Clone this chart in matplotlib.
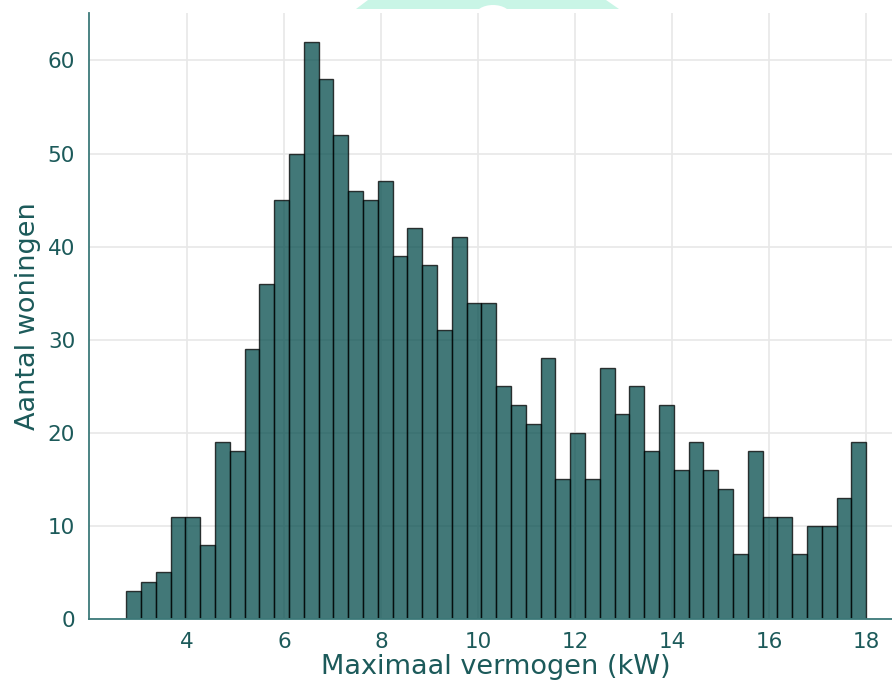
import numpy as np
import matplotlib
matplotlib.use("Agg")
import matplotlib.pyplot as plt
from matplotlib.patches import Polygon, Ellipse

# Histogram counts per bin
counts = [3, 4, 5, 11, 11, 8, 19, 18, 29, 36,
          45, 50, 62, 58, 52, 46, 45, 47, 39, 42,
          38, 31, 41, 34, 34, 25, 23, 21, 28, 15,
          20, 15, 27, 22, 25, 18, 23, 16, 19, 16,
          14, 7, 18, 11, 11, 7, 10, 10, 13, 19]
bin_start = 2.745
bin_end = 18.0
xticks = [4, 6, 8, 10, 12, 14, 16, 18]
yticks = [0, 10, 20, 30, 40, 50, 60]
xlabel = "Maximaal vermogen (kW)"
ylabel = "Aantal woningen"

W, H = 892, 687
fig = plt.figure(figsize=(W / 100, H / 100), dpi=100)

# faint watermark shape at the top
fig.patches.append(Polygon([(356 / W, 1 - 9 / H), (368 / W, 1.0), (606 / W, 1.0), (619 / W, 1 - 9 / H)],
                           closed=True, transform=fig.transFigure, facecolor="#c9f5e6",
                           edgecolor="none", zorder=0))
fig.patches.append(Ellipse((493 / W, 1 - 16 / H), 36 / W, 22 / H, transform=fig.transFigure,
                           facecolor="white", edgecolor="none", zorder=1))

ax = fig.add_axes([89 / W, 1 - 619 / H, 814 / W, 606 / H])
ax.set_zorder(2)

edges = np.linspace(bin_start, bin_end, len(counts) + 1)
widths = np.diff(edges)
ax.bar(edges[:-1], counts, width=widths, align="edge", color="#034b4b", alpha=0.75,
       edgecolor="black", linewidth=1.0, zorder=2)

ax.set_xlim(1.98, 18.76)
ax.set_ylim(0, 65.1)
ax.set_xticks(xticks)
ax.set_yticks(yticks)

txt = "#1c5a5a"
ax.grid(True, color="#e8e8e8", linewidth=1.2, zorder=0)
ax.set_axisbelow(True)
for s in ["top", "right"]:
    ax.spines[s].set_visible(False)
for s in ["left", "bottom"]:
    ax.spines[s].set_color("#3d7a7a")
    ax.spines[s].set_linewidth(1.3)
ax.tick_params(axis="both", length=0, labelsize=15.5, labelcolor=txt)
ax.tick_params(axis="y", pad=10)
ax.tick_params(axis="x", pad=9)
ax.set_xlabel(xlabel, fontsize=19.5, color=txt, labelpad=2)
ax.set_ylabel(ylabel, fontsize=19.5, color=txt, labelpad=5)

fig.savefig("out.png", dpi=100)
